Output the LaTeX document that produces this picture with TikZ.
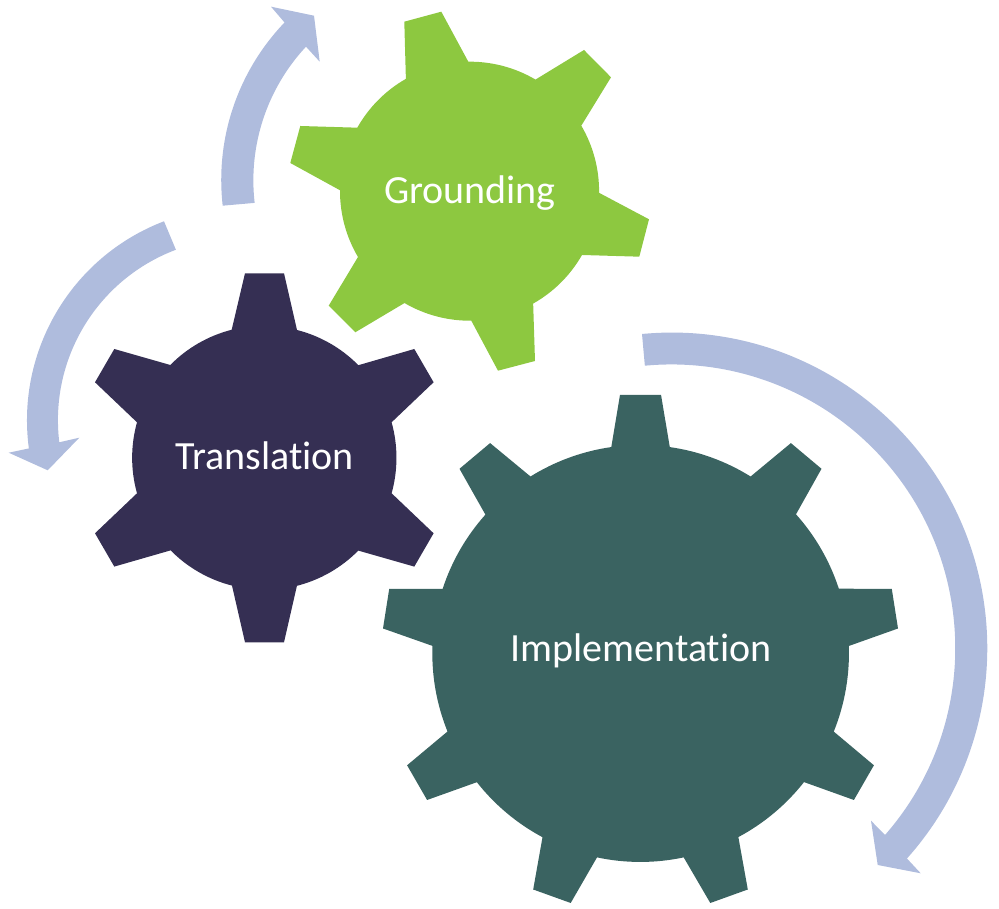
\documentclass[tikz,border=0pt]{standalone}
\usepackage{fontspec}
\setmainfont[Ligatures=NoCommon]{Carlito}
\definecolor{groundc}{RGB}{141,200,64}
\definecolor{transc}{RGB}{53,47,83}
\definecolor{implc}{RGB}{58,99,97}
\definecolor{arrowc}{RGB}{175,188,221}
\tikzset{
  gearg/.style={fill=groundc,draw=none},
  geart/.style={fill=transc,draw=none},
  geari/.style={fill=implc,draw=none},
  ringarrow/.style={fill=arrowc,draw=none},
  geartext/.style={text=white,font=\fontsize{40}{44}\selectfont,anchor=base,inner sep=0pt},
}
\begin{document}
\begin{tikzpicture}[x=1pt,y=1pt]
\useasboundingbox (0,0) rectangle (999,909);
\begin{scope}[shift={(0,909)},yscale=-1]
% curved arrows
\path[ringarrow] (642,334) arc[start angle=-95.4,end angle=41.8,radius=315.6pt]
  -- (920.7,873.3) -- (877.7,865) -- (871,820.7) -- (885,835)
  arc[start angle=41.2,end angle=-95.4,radius=283.7pt] -- cycle;
\path[ringarrow] (222.7,205.7) arc[start angle=173.5,end angle=223.8,radius=227.5pt]
  -- (271,6.7) -- (314,15.7) -- (319.7,61.7) -- (306,46.7)
  arc[start angle=223,end angle=173.4,radius=196pt] -- cycle;
\path[ringarrow] (164,221.3) arc[start angle=249.1,end angle=172.4,radius=213pt]
  -- (8.7,452.7) -- (47.7,470.3) -- (79.3,437.7) -- (59.3,442.3)
  arc[start angle=173,end angle=249.4,radius=182pt] -- cycle;
% Grounding gear
\path[gearg] (468.3,61.7) arc[start angle=-90.7,end angle=-59.5,radius=129.3pt]
  -- (584,50) -- (611,77.3) -- (581.3,125.7)
  arc[start angle=-30.4,end angle=0.75,radius=129.3pt]
  -- (649,219.3) -- (639.3,256.7) -- (582,255)
  arc[start angle=29.7,end angle=60.6,radius=129.3pt]
  -- (535,361) -- (498,370.7) -- (471.3,320.7)
  arc[start angle=89.3,end angle=120.3,radius=129.3pt]
  -- (355.3,332.3) -- (328.7,305.7) -- (358,257)
  arc[start angle=149.4,end angle=180.4,radius=129.3pt]
  -- (290.3,163) -- (300.3,126) -- (357.3,127.7)
  arc[start angle=209.4,end angle=240.3,radius=129.3pt]
  -- (404.3,21.7) -- (441.3,11.7) -- cycle;
% Translation gear
\begin{scope}[shift={(264.3,457.8)}]
\path[geart] (32.7,-127.8) arc[start angle=-75.7,end angle=-44.6,radius=132pt]
  -- (150,-108.8) -- (169.3,-75.5) -- (127.3,-35.5)
  arc[start angle=-15.6,end angle=15.6,radius=132pt]
  -- (169.3,75.5) -- (150,108.8) -- (94,92.8)
  arc[start angle=44.6,end angle=75.7,radius=132pt]
  -- (19.7,184.5) -- (-19.3,184.5) -- (-32.3,127.8)
  arc[start angle=104.3,end angle=135.4,radius=132pt]
  -- (-150,108.8) -- (-169.3,75.5) -- (-127.3,35.5)
  arc[start angle=164.4,end angle=195.6,radius=132pt]
  -- (-169.3,-75.5) -- (-150,-108.8) -- (-94,-92.8)
  arc[start angle=224.6,end angle=255.7,radius=132pt]
  -- (-19.3,-184.5) -- (19.7,-184.5) -- cycle;
\end{scope}
% Implementation gear
\begin{scope}[shift={(640.5,653.5)}]
\path[geari] (29.3,-206.4) arc[start angle=-81.9,end angle=-58.1,radius=208.5pt]
  -- (150.4,-210.4) -- (181,-184.7) -- (155.5,-139.2)
  arc[start angle=-41.8,end angle=-18.05,radius=208.5pt]
  -- (251.3,-64.5) -- (257.5,-25) -- (208.3,-7.5)
  arc[start angle=-2.06,end angle=22,radius=208.5pt]
  -- (233.4,111.8) -- (213.4,146.5) -- (163.5,128.6)
  arc[start angle=38.2,end angle=61.9,radius=208.5pt]
  -- (107.3,236) -- (69.8,249.5) -- (43.2,203.9)
  arc[start angle=78,end angle=102,radius=208.5pt]
  -- (-69.8,249.5) -- (-107.3,236) -- (-98,183.7)
  arc[start angle=118.1,end angle=141.8,radius=208.5pt]
  -- (-213.4,146.5) -- (-233.4,111.8) -- (-193,78)
  arc[start angle=158,end angle=182.06,radius=208.5pt]
  -- (-257.5,-25) -- (-251.3,-64.5) -- (-197.9,-64.5)
  arc[start angle=198.05,end angle=221.8,radius=208.5pt]
  -- (-181,-184.7) -- (-150.4,-210.4) -- (-110,-177)
  arc[start angle=238.1,end angle=261.9,radius=208.5pt]
  -- (-20.5,-258.7) -- (20.5,-258.7) -- cycle;
\end{scope}
% labels
\node[geartext] (grounding) at (470,203.7) {Grounding};
\node[geartext] (translation) at (264.5,470) {Translation};
\node[geartext] (implementation) at (641,661.7) {Implementation};
\end{scope}
\end{tikzpicture}
\end{document}
